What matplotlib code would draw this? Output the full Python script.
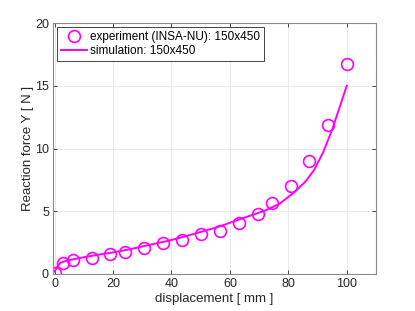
import numpy as np
import matplotlib
matplotlib.use('Agg')
import matplotlib.pyplot as plt

plt.rcParams['font.family'] = ['Liberation Sans', 'DejaVu Sans']

# experiment (INSA-NU)
exp_x = [0, 3.0, 6.2, 12.8, 19.1, 24.2, 30.7, 37.1, 43.6, 50.0, 56.5, 63.1, 69.5, 74.4, 80.8, 87.2, 93.6, 100.2]
exp_y = [0.1, 0.87, 1.1, 1.27, 1.59, 1.77, 2.11, 2.48, 2.72, 3.17, 3.44, 4.05, 4.79, 5.63, 7.03, 9.02, 11.9, 16.7]

# simulation
sim_x = [0, 1, 2, 4, 8, 14, 20, 26, 32, 38, 44, 50, 56, 62, 67, 72, 77, 82, 86, 89, 92, 95, 97, 100]
sim_y = [0.2, 0.6, 0.9, 1.05, 1.25, 1.5, 1.72, 1.98, 2.3, 2.6, 2.95, 3.35, 3.75, 4.25, 4.65, 5.05, 5.6,
         6.5, 7.4, 8.35, 9.75, 11.5, 12.9, 15.0]

xticks = [0, 20, 40, 60, 80, 100]
yticks = [0, 5, 10, 15, 20]

fig = plt.figure(figsize=(4.15, 3.11), dpi=100)
ax = fig.add_axes([0.128, 0.119, 0.778, 0.807])

ax.plot(exp_x, exp_y, 'o', color='#ff00ff', mfc='none', ms=8.5, mew=1.2,
        label='experiment (INSA-NU): 150x450')
ax.plot(sim_x, sim_y, '-', color='#ff00ff', lw=1.4, label='simulation: 150x450')

ax.set_xlim(-0.5, 110)
ax.set_ylim(0, 20)
ax.set_xticks(xticks)
ax.set_yticks(yticks)
ax.grid(True, color='#e6e6e6', lw=0.6)
ax.set_axisbelow(True)
ax.tick_params(direction='in', top=True, right=True, labelsize=9, colors='#262626',
               length=3, width=0.6, pad=3)
for s in ax.spines.values():
    s.set_color('#8a8a8a')
    s.set_linewidth(0.8)

ax.set_xlabel('displacement [ mm ]', fontsize=9.5, color='#262626', labelpad=2)
ax.set_ylabel('Reaction force Y [ N ]', fontsize=9.5, color='#262626', labelpad=1)

leg = ax.legend(loc='upper left', fontsize=8.5, fancybox=False, framealpha=1,
                edgecolor='#262626', borderaxespad=0.35, handlelength=2.2,
                handletextpad=0.3, borderpad=0.3, labelspacing=0.2)
leg.get_frame().set_linewidth(0.6)

fig.savefig('out.png', dpi=100)
